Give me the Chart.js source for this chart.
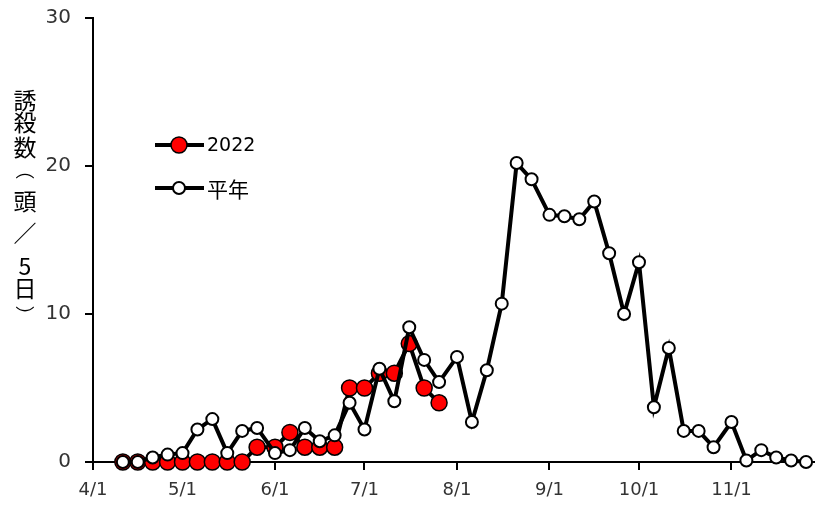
<!DOCTYPE html>
<html>
<head>
<meta charset="utf-8">
<script src="https://cdn.jsdelivr.net/npm/chart.js@4/dist/chart.umd.min.js"></script>
<style>
  body { margin: 0; background: #fff; }
  #wrap { width: 815px; height: 511px; }
</style>
</head>
<body>
<div id="wrap"><canvas id="trapChart" width="815" height="511"></canvas></div>
<script>
// half-month (5 day) sampling dates
const dates = [
  '4/11','4/16','4/21','4/26',
  '5/1','5/6','5/11','5/16','5/21','5/26',
  '6/1','6/6','6/11','6/16','6/21','6/26',
  '7/1','7/6','7/11','7/16','7/21','7/26',
  '8/1','8/6','8/11','8/16','8/21','8/26',
  '9/1','9/6','9/11','9/16','9/21','9/26',
  '10/1','10/6','10/11','10/16','10/21','10/26',
  '11/1','11/6','11/11','11/16','11/21','11/26'
];
const avgValues = [
  0, 0, 0.3, 0.5,
  0.6, 2.2, 2.9, 0.6, 2.1, 2.3,
  0.6, 0.8, 2.3, 1.4, 1.8, 4.0,
  2.2, 6.3, 4.1, 9.1, 6.9, 5.4,
  7.1, 2.7, 6.2, 10.7, 20.2, 19.1,
  16.7, 16.6, 16.4, 17.6, 14.1, 10.0,
  13.5, 3.7, 7.7, 2.1, 2.1, 1.0,
  2.7, 0.1, 0.8, 0.3, 0.1, 0
];
const values2022 = [
  0, 0, 0, 0,
  0, 0, 0, 0, 0, 1,
  1, 2, 1, 1, 1, 5,
  5, 6, 6, 8, 5, 4
];
const tickLabels = ['4/1','5/1','6/1','7/1','8/1','9/1','10/1','11/1'];
// vertical title (vertical-form brackets)
const yTitle = ['誘','殺','数','︵','頭','／','5','日','︶'];

function dayOffset(s) {
  const [m, d] = s.split('/').map(Number);
  return Math.round((new Date(2022, m - 1, d) - new Date(2022, 3, 1)) / 86400000);
}
const toPoints = vals => vals.map((v, i) => ({ x: dayOffset(dates[i]), y: v }));
const tickPos = tickLabels.map(dayOffset);

const latinFont = '"DejaVu Sans", sans-serif';
const jpFont = '"Noto Sans CJK JP", sans-serif';

// legend inside the plot + vertical y-axis title
const decorations = {
  id: 'decorations',
  afterDraw(chart) {
    const ctx = chart.ctx;
    ctx.save();
    ctx.fillStyle = '#000';
    ctx.textAlign = 'center';
    ctx.textBaseline = 'middle';
    // y for each char; the bracket glyphs sit off-centre in their box
    const ys = [100, 122, 147, 170, 201, 233, 266, 288, 316];
    yTitle.forEach((c, i) => {
      ctx.font = (c === '︵' || c === '︶' ? '19px ' : '23px ') + jpFont;
      ctx.fillText(c, 25, ys[i]);
    });

    // legend
    const items = [
      { y: 145, fill: '#ff0000', r: 8, bw: 1.5, text: '2022', font: '19px ' + latinFont },
      { y: 188, fill: '#ffffff', r: 6, bw: 2, text: '平年', font: '21px ' + jpFont }
    ];
    items.forEach(it => {
      ctx.strokeStyle = '#000';
      ctx.lineWidth = 4;
      ctx.beginPath();
      ctx.moveTo(155, it.y);
      ctx.lineTo(204, it.y);
      ctx.stroke();
      ctx.beginPath();
      ctx.arc(179, it.y, it.r, 0, Math.PI * 2);
      ctx.fillStyle = it.fill;
      ctx.fill();
      ctx.lineWidth = it.bw;
      ctx.stroke();
      ctx.fillStyle = '#000';
      ctx.font = it.font;
      ctx.textAlign = 'left';
      ctx.fillText(it.text, 207, it.y + 1);
    });
    ctx.restore();
  }
};

new Chart(document.getElementById('trapChart').getContext('2d'), {
  type: 'line',
  data: {
    datasets: [
      {
        label: '2022',
        data: toPoints(values2022),
        borderColor: '#000',
        borderWidth: 4,
        pointRadius: 8,
        pointBackgroundColor: '#ff0000',
        pointBorderColor: '#000',
        pointBorderWidth: 1.5,
        tension: 0,
        clip: false,
        order: 2
      },
      {
        label: '平年',
        data: toPoints(avgValues),
        borderColor: '#000',
        borderWidth: 4,
        pointRadius: 6,
        pointBackgroundColor: '#fff',
        pointBorderColor: '#000',
        pointBorderWidth: 2,
        tension: 0,
        clip: false,
        order: 1
      }
    ]
  },
  options: {
    responsive: false,
    animation: false,
    layout: { autoPadding: false, padding: { top: 18, right: 0, left: 0, bottom: 0 } },
    plugins: {
      legend: { display: false },
      tooltip: { enabled: false }
    },
    scales: {
      x: {
        type: 'linear',
        min: 0,
        max: 242,
        afterFit: s => { s.height = 49; s.paddingLeft = 0; s.paddingRight = 0; },
        afterBuildTicks: s => { s.ticks = tickPos.map(v => ({ value: v })); },
        ticks: {
          autoSkip: false,
          maxRotation: 0,
          padding: 10,
          color: '#333',
          font: { family: latinFont, size: 18 },
          callback: (v) => tickLabels[tickPos.indexOf(v)]
        },
        grid: { drawOnChartArea: false, drawTicks: true, tickLength: 8, color: '#000', lineWidth: 2 },
        border: { display: true, color: '#000', width: 2 }
      },
      y: {
        min: 0,
        max: 30,
        afterFit: s => { s.width = 93; s.paddingTop = 0; s.paddingBottom = 0; },
        ticks: {
          stepSize: 10,
          padding: 14,
          color: '#333',
          font: { family: latinFont, size: 20 }
        },
        grid: { drawOnChartArea: false, drawTicks: true, tickLength: 8, color: '#000', lineWidth: 2 },
        border: { display: true, color: '#000', width: 2 }
      }
    }
  },
  plugins: [decorations]
});
</script>
</body>
</html>
